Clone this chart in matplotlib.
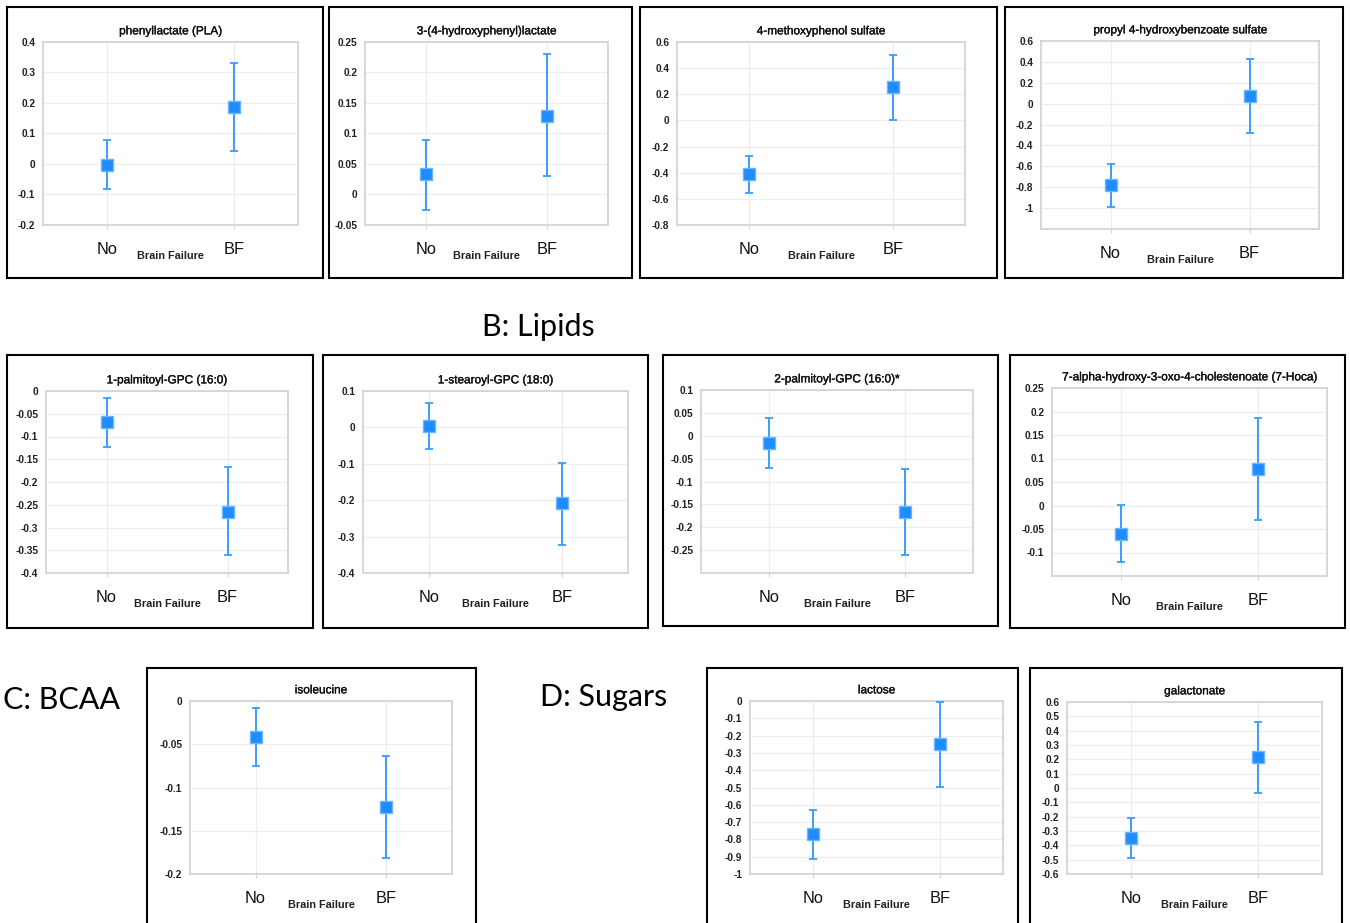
import matplotlib
matplotlib.use("Agg")
import matplotlib.pyplot as plt
from matplotlib.patches import Rectangle
import matplotlib.patheffects as pe
import numpy as np

# ---------------- data ----------------
titles = [
    "phenyllactate (PLA)",
    "3-(4-hydroxyphenyl)lactate",
    "4-methoxyphenol sulfate",
    "propyl 4-hydroxybenzoate sulfate",
    "1-palmitoyl-GPC (16:0)",
    "1-stearoyl-GPC (18:0)",
    "2-palmitoyl-GPC (16:0)*",
    "7-alpha-hydroxy-3-oxo-4-cholestenoate (7-Hoca)",
    "isoleucine",
    "lactose",
    "galactonate",
]
groups = ["No", "BF"]
x_title = "Brain Failure"

no_mean = [-0.002, 0.033, -0.411, -0.781, -0.069, 0.004, -0.016, -0.060, -0.042, -0.771, -0.347]
no_low  = [-0.083, -0.025, -0.557, -0.986, -0.124, -0.059, -0.070, -0.120, -0.075, -0.911, -0.487]
no_high = [0.079, 0.089, -0.271, -0.582, -0.015, 0.068, 0.038, 0.002, -0.008, -0.632, -0.210]

bf_mean = [0.186, 0.129, 0.253, 0.074, -0.265, -0.209, -0.167, 0.078, -0.123, -0.249, 0.214]
bf_low  = [0.043, 0.030, 0.000, -0.282, -0.361, -0.322, -0.261, -0.031, -0.182, -0.497, -0.033]
bf_high = [0.331, 0.230, 0.503, 0.432, -0.168, -0.098, -0.072, 0.187, -0.064, -0.004, 0.459]

# axis ranges: (ymin, ymax), tick range (tmin, tmax, step)
y_limits = [(-0.2, 0.4), (-0.05, 0.25), (-0.8, 0.6), (-1.2, 0.6), (-0.4, 0.0), (-0.4, 0.1),
            (-0.3, 0.1), (-0.15, 0.25), (-0.2, 0.0), (-1.0, 0.0), (-0.6, 0.6)]
y_ticks = [(-0.2, 0.4, 0.1), (-0.05, 0.25, 0.05), (-0.8, 0.6, 0.2), (-1.0, 0.6, 0.2),
           (-0.4, 0.0, 0.05), (-0.4, 0.1, 0.1), (-0.25, 0.1, 0.05), (-0.1, 0.25, 0.05),
           (-0.2, 0.0, 0.05), (-1.0, 0.0, 0.1), (-0.6, 0.6, 0.1)]

section_labels = ["B: Lipids", "C: BCAA", "D: Sugars"]

# ---------------- layout (pixels) ----------------
W, H = 1350, 923
boxes = [(7, 7, 323, 278), (329, 7, 632, 278), (640, 7, 997, 278), (1005, 7, 1343, 278),
         (7, 355, 313, 628), (323, 355, 648, 628), (663, 355, 998, 626), (1010, 355, 1345, 628),
         (147, 668, 476, 940), (707, 668, 1018, 940), (1030, 668, 1342, 940)]
axes_px = [(43, 42, 298, 225), (365, 42, 608, 225), (677, 42, 965, 225), (1041, 41, 1319, 229),
           (46, 391, 288, 573), (363, 391, 628, 573), (701, 390, 973, 573), (1052, 388, 1327, 576),
           (190, 701, 452, 874), (750, 701, 1003, 874), (1067, 702, 1322, 874)]
section_pos = [((538, 327), "center"), ((3, 700), "left"), ((540, 697), "left")]

FONT = "Liberation Sans"
ERR_COLOR = "#3a9cff"
FACE = "#1f8cff"
EDGE = "#6ab6ff"
GRID = "#ededed"
SPINE = "#d4d4d4"
thick = [pe.withStroke(linewidth=0.25, foreground="#111111")]


def fmt(v):
    v = round(v, 4)
    if abs(v) < 1e-9:
        return "0"
    return f"{v:g}"


fig = plt.figure(figsize=(W / 100, H / 100), dpi=100)
fig.patch.set_facecolor("white")

for i in range(len(titles)):
    bx0, by0, bx1, by1 = boxes[i]
    rect = Rectangle((bx0 / W, 1 - by1 / H), (bx1 - bx0) / W, (by1 - by0) / H,
                     transform=fig.transFigure, fill=False, edgecolor="black",
                     linewidth=1.5, zorder=0)
    fig.patches.append(rect)

    ax0, ay0, ax1, ay1 = axes_px[i]
    ax = fig.add_axes([ax0 / W, 1 - ay1 / H, (ax1 - ax0) / W, (ay1 - ay0) / H])

    xs = np.array([1, 2])
    means = np.array([no_mean[i], bf_mean[i]])
    lows = np.array([no_low[i], bf_low[i]])
    highs = np.array([no_high[i], bf_high[i]])
    ax.errorbar(xs, means, yerr=[means - lows, highs - means], fmt="none",
                ecolor=ERR_COLOR, elinewidth=1.4, capsize=2.6, capthick=1.3, zorder=3)
    ax.plot(xs, means, linestyle="none", marker="s", markersize=8.7,
            markerfacecolor=FACE, markeredgecolor=EDGE, markeredgewidth=1.0, zorder=4)

    ax.set_xlim(0.5, 2.5)
    ax.set_ylim(*y_limits[i])
    tmin, tmax, step = y_ticks[i]
    n = int(round((tmax - tmin) / step)) + 1
    ticks = [tmin + k * step for k in range(n)]
    ax.set_yticks(ticks)
    ax.set_yticklabels([fmt(t) for t in ticks], fontsize=7.3, fontweight="bold",
                       family=FONT, color="#222222")
    ax.set_xticks(xs)
    ax.set_xticklabels(groups, fontsize=11.8, family=FONT, color="#111111")
    ax.tick_params(axis="y", length=0, pad=5.5)
    ax.tick_params(axis="x", length=3, color=SPINE, pad=9)

    ax.grid(True, color=GRID, linewidth=0.9, zorder=0)
    ax.set_axisbelow(True)
    for s in ax.spines.values():
        s.set_color(SPINE)
        s.set_linewidth(1.3)

    t = ax.set_title(titles[i], fontsize=8.5, family=FONT, color="#111111", pad=5.5)
    t.set_path_effects(thick)
    ax.annotate(x_title, xy=(0.5, 0), xycoords="axes fraction",
                xytext=(0, -22.5), textcoords="offset points",
                ha="center", va="center", fontsize=7.8, fontweight="bold",
                family=FONT, color="#222222")

for lab, ((sx, sy), ha) in zip(section_labels, section_pos):
    fig.text(sx / W, 1 - sy / H, lab, ha=ha, va="center", fontsize=22,
             family="Lato", color="black")

fig.savefig("out.png", dpi=100, facecolor="white")
